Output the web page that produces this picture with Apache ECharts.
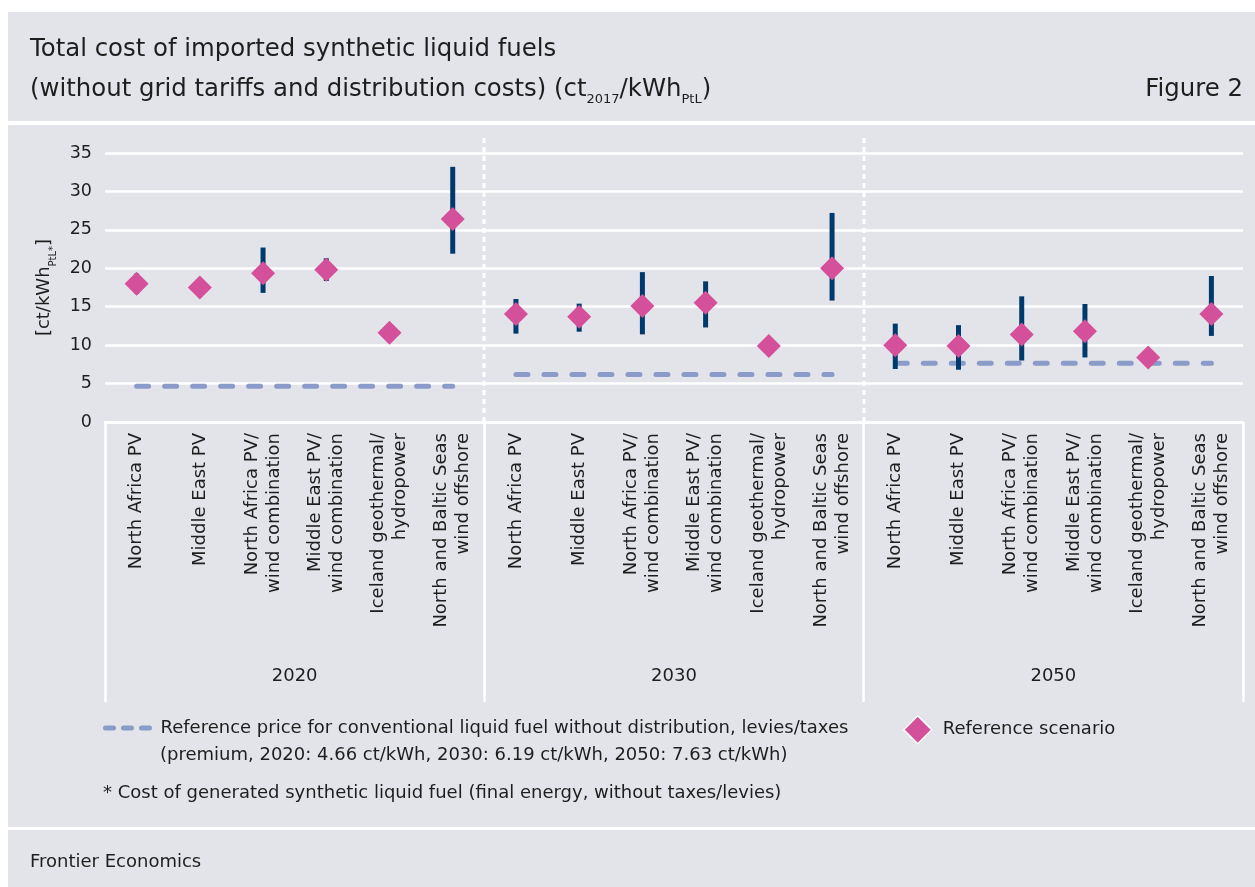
<!DOCTYPE html>
<html><head><meta charset="utf-8">
<script src="https://cdn.jsdelivr.net/npm/echarts@6/dist/echarts.min.js"></script>
<style>
html,body{margin:0;padding:0;background:#fff;}
#wrap{position:relative;width:1255px;height:887px;background:#fff;overflow:hidden;}
.band{position:absolute;left:8px;right:0;background:#e3e4e9;}
#c{position:absolute;left:0;top:0;width:1255px;height:887px;}
</style>
</head><body>
<div id="wrap">
  <div class="band" style="top:12px;height:109px;"></div>
  <div class="band" style="top:125px;height:702px;"></div>
  <div class="band" style="top:830px;height:57px;"></div>
  <div id="c"></div>
</div>
<script>
// ---- data ----
const years = ['2020', '2030', '2050'];
const sources = ['North Africa PV', 'Middle East PV', 'North Africa PV/\nwind combination',
  'Middle East PV/\nwind combination', 'Iceland geothermal/\nhydropower', 'North and Baltic Seas\nwind offshore'];
const central2020 = [18.0, 17.5, 19.35, 19.8, 11.6, 26.4];
const low2020     = [16.7, null, 16.8, 18.35, null, 21.9];
const high2020    = [19.3, null, 22.7, 21.3, null, 33.2];
const central2030 = [14.05, 13.7, 15.1, 15.5, 9.9, 20.0];
const low2030     = [11.5, 11.75, 11.4, 12.3, null, 15.8];
const high2030    = [16.0, 15.4, 19.5, 18.3, null, 27.2];
const central2050 = [10.0, 9.9, 11.4, 11.8, 8.4, 14.05];
const low2050     = [6.9, 6.8, 8.0, 8.4, null, 11.2];
const high2050    = [12.8, 12.6, 16.35, 15.35, null, 19.0];
const refPrice = [4.66, 6.19, 7.63];
const yTicks = [0, 5, 10, 15, 20, 25, 30, 35];

// ---- build ----
const FONT = 'DejaVu Sans';
const TXT = '#1e1e1e';
const centrals = [central2020, central2030, central2050];
const lows = [low2020, low2030, low2050];
const highs = [high2020, high2030, high2050];
const categories = [];
years.forEach(() => sources.forEach(s => categories.push(s)));
const scatterData = [], barData = [];
centrals.forEach((arr, g) => arr.forEach((v, i) => {
  const idx = g * sources.length + i;
  scatterData.push([idx, v]);
  if (lows[g][i] != null) barData.push([idx, lows[g][i], highs[g][i]]);
}));
const refName = 'Reference price for conventional liquid fuel without distribution, levies/taxes';
const refSeries = refPrice.map((p, g) => ({
  name: refName, type: 'line', symbol: 'none', silent: true, z: 3,
  data: sources.map((s, i) => [g * sources.length + i, p]),
  lineStyle: { color: '#8b9bc9', width: 5, type: [12, 16], cap: 'round' },
  itemStyle: { color: '#8b9bc9' }
}));

const chart = echarts.init(document.getElementById('c'));
chart.setOption({
  animation: false,
  textStyle: { fontFamily: FONT, color: TXT },
  title: [
    { left: 30, top: 30, padding: 0,
      text: 'Total cost of imported synthetic liquid fuels\n(without grid tariffs and distribution costs) (ct{sub|2017}/kWh{sub|PtL})',
      textStyle: { fontFamily: FONT, fontSize: 24.4, fontWeight: 'normal', color: TXT, lineHeight: 40,
        rich: { sub: { fontFamily: FONT, fontSize: 13, verticalAlign: 'bottom', padding: [0, 0, 4, 0], color: TXT } } } },
    { right: 12, top: 70, padding: 0, text: 'Figure 2',
      textStyle: { fontFamily: FONT, fontSize: 24.4, fontWeight: 'normal', color: TXT, lineHeight: 40 } },
    { left: 30, top: 853, padding: 0, text: 'Frontier Economics',
      textStyle: { fontFamily: FONT, fontSize: 18, fontWeight: 'normal', color: TXT } }
  ],
  legend: [
    { left: 103, top: 719, padding: 0, itemWidth: 47, itemHeight: 22, selectedMode: false,
      data: [refName],
      itemStyle: { opacity: 0 },
      lineStyle: { type: [8, 10], width: 5, cap: 'round', color: '#8b9bc9' },
      textStyle: { fontFamily: FONT, fontSize: 18, color: TXT, padding: [0, 0, 0, 3] } },
    { left: 903, top: 715, padding: 0, itemWidth: 28, itemHeight: 28, selectedMode: false,
      data: [{ name: 'Reference scenario', itemStyle: { borderColor: '#ffffff', borderWidth: 1.5 } }],
      textStyle: { fontFamily: FONT, fontSize: 18, color: TXT, padding: [0, 0, 0, 6] } }
  ],
  grid: { left: 105, right: 12, top: 153, bottom: 465, containLabel: false },
  xAxis: [
    { type: 'category', data: categories, gridIndex: 0, position: 'bottom',
      axisLine: { show: true, lineStyle: { color: '#ffffff', width: 2.5 } },
      axisTick: { show: false },
      axisLabel: { interval: 0, rotate: 90, margin: 11, fontFamily: FONT, fontSize: 18, lineHeight: 22, color: TXT },
      splitLine: { show: false } },
    { type: 'category', data: years, gridIndex: 0, position: 'bottom',
      axisLine: { show: false },
      axisTick: { show: true, length: 280, lineStyle: { color: '#ffffff', width: 2.5 } },
      axisLabel: { margin: 245, fontFamily: FONT, fontSize: 18, color: TXT },
      splitLine: { show: false } }
  ],
  yAxis: {
    type: 'value', min: yTicks[0], max: yTicks[yTicks.length - 1], interval: 5,
    axisLine: { show: false }, axisTick: { show: false },
    axisLabel: { margin: 13, fontFamily: FONT, fontSize: 17.5, color: TXT },
    splitLine: { lineStyle: { color: '#ffffff', width: 2.5 } },
    name: '[ct/kWh{sub|PtL*}]', nameLocation: 'middle', nameGap: 46,
    nameTextStyle: { fontFamily: FONT, fontSize: 18, color: TXT, lineHeight: 30,
      rich: { sub: { fontFamily: FONT, fontSize: 10, lineHeight: 17, verticalAlign: 'bottom', color: TXT } } }
  },
  series: [
    ...refSeries,
    { name: 'range', type: 'custom', z: 4, silent: true,
      data: barData,
      encode: { x: 0, y: [1, 2] },
      renderItem: function (params, api) {
        const x = api.value(0);
        const p1 = api.coord([x, api.value(2)]);
        const p2 = api.coord([x, api.value(1)]);
        return { type: 'rect', shape: { x: p1[0] - 2.5, y: p1[1], width: 5, height: p2[1] - p1[1] },
          style: { fill: '#003a6c' } };
      } },
    { name: 'Reference scenario', type: 'scatter', z: 5, symbol: 'diamond', symbolSize: 24,
      data: scatterData, itemStyle: { color: '#d5509a', opacity: 1 } }
  ]
});

// decorative separators and extra text lines
const n = sources.length;
const graphics = [];
for (let g = 1; g < years.length; g++) {
  const a = chart.convertToPixel({ xAxisIndex: 0 }, g * n - 1);
  const b = chart.convertToPixel({ xAxisIndex: 0 }, g * n);
  const xm = Math.round((a + b) / 2);
  const y0 = chart.convertToPixel({ yAxisIndex: 0 }, 0);
  graphics.push({ type: 'line', z: 1, shape: { x1: xm, y1: 138, x2: xm, y2: y0 },
    style: { stroke: '#ffffff', lineWidth: 3, lineDash: [5, 4] } });
}
graphics.push({ type: 'text', left: 160, top: 746,
  style: { text: '(premium, 2020: 4.66 ct/kWh, 2030: 6.19 ct/kWh, 2050: 7.63 ct/kWh)', font: '18px "DejaVu Sans"', fill: TXT } });
graphics.push({ type: 'text', left: 103, top: 784,
  style: { text: '* Cost of generated synthetic liquid fuel (final energy, without taxes/levies)', font: '18px "DejaVu Sans"', fill: TXT } });
chart.setOption({ graphic: graphics });
</script>
</body></html>
